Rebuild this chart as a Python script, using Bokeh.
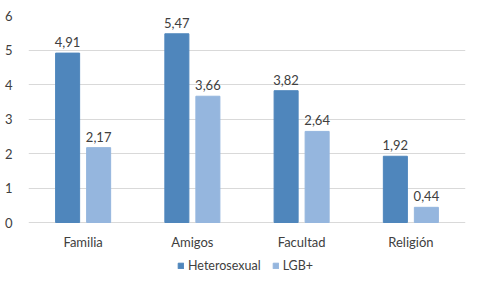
from bokeh.plotting import figure
from bokeh.models import ColumnDataSource, FactorRange, Range1d, Legend, LegendItem
from bokeh.transform import dodge
from bokeh.embed import file_html
from bokeh.resources import INLINE

categories = ["Familia", "Amigos", "Facultad", "Religión"]
hetero = [4.91, 5.47, 3.82, 1.92]
lgb = [2.17, 3.66, 2.64, 0.44]
y_ticks = [0, 1, 2, 3, 4, 5, 6]

def fmt(v):
    return f"{v:.2f}".replace(".", ",")

src = ColumnDataSource(dict(
    cat=categories, hetero=hetero, lgb=lgb, base=[0] * len(categories),
    hlab=[fmt(v) for v in hetero], llab=[fmt(v) for v in lgb],
))

FONT = "Lato"
DARK = "#4F86BC"
LIGHT = "#95B6DE"
TXT = "#404040"

# frame spans down to the bottom of the page; value 0 sits 66 px above it
p = figure(width=480, height=288, x_range=FactorRange(*categories, range_padding=0),
           y_range=Range1d(-66 / 34.5, 6), output_backend="svg", toolbar_location=None,
           min_border_left=28, min_border_right=15, min_border_top=15, min_border_bottom=0)
p.outline_line_color = None
p.background_fill_color = "white"
p.border_fill_color = "white"

r1 = p.vbar(x=dodge("cat", -0.142, range=p.x_range), top="hetero", width=0.22, source=src,
            fill_color=DARK, line_color=DARK)
r2 = p.vbar(x=dodge("cat", 0.142, range=p.x_range), top="lgb", width=0.22, source=src,
            fill_color=LIGHT, line_color=LIGHT)

for col, lab, off in [("hetero", "hlab", -0.142), ("lgb", "llab", 0.142)]:
    p.text(x=dodge("cat", off, range=p.x_range), y=col, text=lab, source=src,
           text_align="center", text_baseline="bottom", y_offset=-6,
           text_font_size="13px", text_color=TXT, text_font={"value": FONT})

# category labels under the baseline
p.text(x="cat", y="base", text="cat", source=src, text_align="center", text_baseline="top",
       y_offset=11, text_font_size="13px", text_color=TXT, text_font={"value": FONT})

p.xaxis.visible = False
p.xgrid.grid_line_color = None
p.ygrid.grid_line_color = "#D9D9D9"
p.ygrid.ticker = y_ticks
p.yaxis.ticker = y_ticks
p.yaxis.axis_line_color = None
p.yaxis.major_tick_line_color = None
p.yaxis.minor_tick_line_color = None
p.yaxis.major_label_text_font = FONT
p.yaxis.major_label_text_font_size = "13px"
p.yaxis.major_label_text_color = TXT
p.yaxis.major_label_standoff = 10

legend = Legend(items=[LegendItem(label="Heterosexual", renderers=[r1]),
                       LegendItem(label="LGB+", renderers=[r2])],
                orientation="horizontal", location=(149, 15),
                label_text_font=FONT, label_text_font_size="12.5px", label_text_color=TXT,
                glyph_width=7, glyph_height=7, label_height=14, label_standoff=4, spacing=11,
                padding=0, margin=0, border_line_color=None, background_fill_alpha=0)
p.add_layout(legend, "center")

open("out.html", "w").write(file_html(p, INLINE))
